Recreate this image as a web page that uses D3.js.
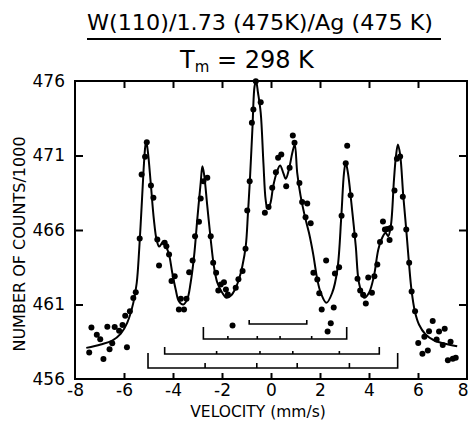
<!DOCTYPE html>
<html><head><meta charset="utf-8">
<script src="https://cdn.jsdelivr.net/npm/d3@7/dist/d3.min.js"></script>
<style>
html,body{margin:0;padding:0;background:#fff;}
svg{display:block;font-family:"DejaVu Sans",sans-serif;}
</style></head>
<body><svg id="c" width="469" height="423"></svg>
<script>
// ---- data (velocity mm/s, counts/1000) ----
const xTicks = [-8,-6,-4,-2,0,2,4,6,8];
const yTicks = [456,461,466,471,476];
const titleText = "W(110)/1.73 (475K)/Ag (475 K)";
const xLabel = "VELOCITY  (mm/s)";
const yLabel = "NUMBER OF COUNTS/1000";

const pointsV = [-7.42,-7.33,-7.11,-6.97,-6.84,-6.68,-6.59,-6.48,-6.38,-6.20,-6.06,-5.95,-5.88,-5.76,-5.62,-5.52,-5.36,-5.28,-5.14,-5.07,
 -4.90,-4.80,-4.64,-4.57,-4.34,-4.27,-4.16,-4.06,-3.93,-3.76,-3.68,-3.55,-3.45,-3.34,-3.20,-3.10,-2.94,-2.87,-2.76,-2.60,
 -2.46,-2.36,-2.24,-2.15,-2.05,-1.92,-1.84,-1.76,-1.57,-1.44,-1.33,-1.16,-1.04,-0.97,-0.87,-0.78,-0.72,-0.62,-0.42,-0.25,
 -0.10,0.05,0.20,0.29,0.42,0.62,0.76,0.89,0.96,1.16,1.27,1.41,1.48,1.62,1.73,1.89,1.97,2.07,2.25,2.31,
 2.44,2.56,2.61,2.78,2.88,3.05,3.11,3.25,3.41,3.53,3.64,3.76,3.87,3.97,4.12,4.22,4.34,4.45,4.57,4.65,
 4.75,4.84,4.88,5.04,5.14,5.27,5.38,5.52,5.64,5.74,5.88,6.01,6.18,6.26,6.40,6.45,6.60,6.76,6.86,7.01,
 7.09,7.22,7.33,7.42,7.54];
const pointsC = [457.78,459.46,458.97,458.67,457.34,459.50,457.99,458.40,459.49,459.23,459.62,460.24,458.13,460.54,461.44,461.82,465.43,469.72,470.91,471.89,
 468.99,468.16,465.36,463.62,465.14,464.91,464.36,462.58,462.90,460.66,461.38,460.66,461.38,463.17,463.95,465.58,466.55,468.11,469.28,469.50,
 465.58,463.80,463.13,461.94,462.34,462.49,462.01,461.67,459.59,462.12,462.70,463.25,464.74,467.31,469.28,473.19,474.09,475.99,474.58,467.15,
 467.54,468.83,469.88,470.85,471.07,468.94,470.17,472.34,471.85,469.15,467.88,466.85,467.78,466.45,463.13,462.68,461.75,460.66,463.95,459.19,
 459.74,460.80,463.08,463.50,466.95,470.48,471.65,468.33,465.64,462.73,461.94,461.65,461.07,462.81,461.79,462.90,463.68,465.19,466.57,466.03,
 466.07,465.33,466.13,468.65,470.78,470.93,468.23,466.03,463.80,461.87,460.55,458.41,457.69,458.83,457.91,459.20,459.89,458.65,459.19,458.28,
 459.38,457.26,458.50,457.36,457.42];

const fitV = [-7.54,-6.95,-6.48,-6.13,-5.87,-5.62,-5.48,-5.38,-5.28,-5.20,-5.13,-5.09,-5.02,-4.91,-4.78,-4.67,-4.56,-4.39,-4.26,-4.16,
 -4.03,-3.89,-3.76,-3.58,-3.42,-3.28,-3.14,-3.01,-2.87,-2.80,-2.73,-2.60,-2.46,-2.33,-2.19,-1.99,-1.81,-1.61,-1.47,-1.31,
 -1.17,-1.03,-0.94,-0.86,-0.76,-0.67,-0.61,-0.53,-0.42,-0.31,-0.22,-0.15,-0.04,0.09,0.23,0.37,0.50,0.60,0.73,0.87,
 0.97,1.07,1.21,1.38,1.55,1.72,1.89,2.03,2.26,2.50,2.71,2.87,2.98,3.05,3.14,3.28,3.46,3.59,3.80,4.00,
 4.20,4.38,4.54,4.68,4.78,4.89,5.02,5.10,5.18,5.27,5.40,5.52,5.63,5.74,5.87,6.04,6.31,6.65,7.06,7.60];
const fitC = [458.09,458.32,458.58,459.05,459.77,461.11,462.46,464.69,467.60,470.06,471.62,471.92,471.18,469.17,466.70,465.36,464.89,465.25,464.81,464.36,
 463.13,462.01,461.22,461.00,461.34,462.46,464.24,466.70,469.17,470.28,469.72,467.60,465.36,463.57,462.46,461.79,461.45,461.64,462.01,462.68,
 463.57,464.91,467.15,469.39,472.74,475.65,476.00,475.21,473.87,470.51,468.05,467.49,467.71,468.94,469.84,470.33,469.84,469.44,470.06,471.18,
 471.74,469.84,468.27,466.93,465.81,464.40,462.68,461.79,461.11,461.79,463.35,466.93,469.84,470.51,469.84,467.83,464.91,462.46,461.45,461.79,
 462.90,464.69,465.48,465.81,465.58,466.26,469.39,470.95,471.74,471.07,468.27,466.03,463.80,461.89,460.55,459.66,458.99,458.60,458.38,458.20];

// stick diagrams: [left end, right end], inner line positions
const stickEnds = [[-0.89,1.46],[-2.76,3.09],[-4.34,4.42],[-5.02,5.17]];
const stickLines = [[],[-1.76,-0.56,0.37,1.66],[-2.22,-0.45,0.89,2.79],[-2.69,-0.58,1.07,3.20]];

// ---- layout ----
const L=75,R=467,T=81,B=379;
const x = d3.scaleLinear().domain([-8,8]).range([L,R]);
const y = d3.scaleLinear().domain([456,476]).range([B,T]);
const svg = d3.select("#c");

// title
svg.append("text").attr("x",87).attr("y",30).attr("font-size",21)
  .attr("textLength",346).attr("lengthAdjust","spacingAndGlyphs").text(titleText);
svg.append("line").attr("x1",87).attr("x2",441).attr("y1",39).attr("y2",39)
  .attr("stroke","#000").attr("stroke-width",2);
const tm = svg.append("text").attr("x",180).attr("y",68).attr("font-size",24);
tm.append("tspan").text("T");
tm.append("tspan").attr("font-size",15).attr("dy",4).text("m");
tm.append("tspan").attr("dy",-4).text(" = 298  K");

// axes (ticks inward)
const g = svg.append("g");
function styleAxis(sel){
  sel.select(".domain").remove();
  sel.selectAll(".tick line").attr("stroke","#000").attr("stroke-width",2);
  sel.selectAll(".tick text").attr("fill","#000").attr("font-family","DejaVu Sans, sans-serif");
}
const xb = g.append("g").attr("transform",`translate(0,${B})`)
  .call(d3.axisBottom(x).tickValues(xTicks).tickSize(-6).tickPadding(5).tickFormat(d=>d<0?"-"+Math.abs(d):d))
  .call(styleAxis).attr("font-size",17);
xb.selectAll(".tick").filter(d=>d===8).select("text").attr("text-anchor","end").attr("dx",1);
g.append("g").attr("transform",`translate(0,${T})`)
  .call(d3.axisTop(x).tickValues(xTicks.slice(1,-1)).tickSize(-7).tickFormat(""))
  .call(styleAxis);
g.append("g").attr("transform",`translate(${L},0)`)
  .call(d3.axisLeft(y).tickValues(yTicks).tickSize(-8).tickPadding(10))
  .call(styleAxis).attr("font-size",17);
g.append("g").attr("transform",`translate(${R},0)`)
  .call(d3.axisRight(y).tickValues(yTicks.slice(1,-1)).tickSize(-8).tickFormat(""))
  .call(styleAxis);
g.selectAll(".tick").filter(d=>d===456||d===476||d===-8||d===8).select("line").remove();

svg.append("rect").attr("x",L).attr("y",T).attr("width",R-L).attr("height",B-T)
  .attr("fill","none").attr("stroke","#000").attr("stroke-width",2);

// axis titles
svg.append("text").attr("x",258).attr("y",417).attr("text-anchor","middle")
  .attr("font-size",15.5).text(xLabel);
svg.append("text").attr("transform","translate(25,244) rotate(-90)").attr("text-anchor","middle")
  .attr("font-size",16).text(yLabel);

// fit curve
const fit = fitV.map((v,i)=>[v,fitC[i]]);
svg.append("path").datum(fit)
  .attr("d",d3.line().x(d=>x(d[0])).y(d=>y(d[1])).curve(d3.curveCatmullRom.alpha(0.5)))
  .attr("fill","none").attr("stroke","#000").attr("stroke-width",2);

// data points
svg.append("g").selectAll("circle").data(pointsV.map((v,i)=>[v,pointsC[i]]))
  .join("circle").attr("cx",d=>x(d[0])).attr("cy",d=>y(d[1])).attr("r",3).attr("fill","#000");

// stick diagrams
const levels=[324,339,354,368], endUp=[4,12,7,15], tickUp=[0,3,3,5];
const sg = svg.append("g").attr("stroke","#000").attr("fill","none").attr("stroke-width",1.6);
stickEnds.forEach((e,i)=>{
  const yl=levels[i], a=x(e[0]), b=x(e[1]), h=endUp[i];
  sg.append("path").attr("d",`M${a},${yl-h}V${yl}H${b}V${yl-h}`);
  stickLines[i].forEach(v=>{
    sg.append("line").attr("x1",x(v)).attr("x2",x(v)).attr("y1",yl).attr("y2",yl-tickUp[i]);
  });
});
</script></body></html>
